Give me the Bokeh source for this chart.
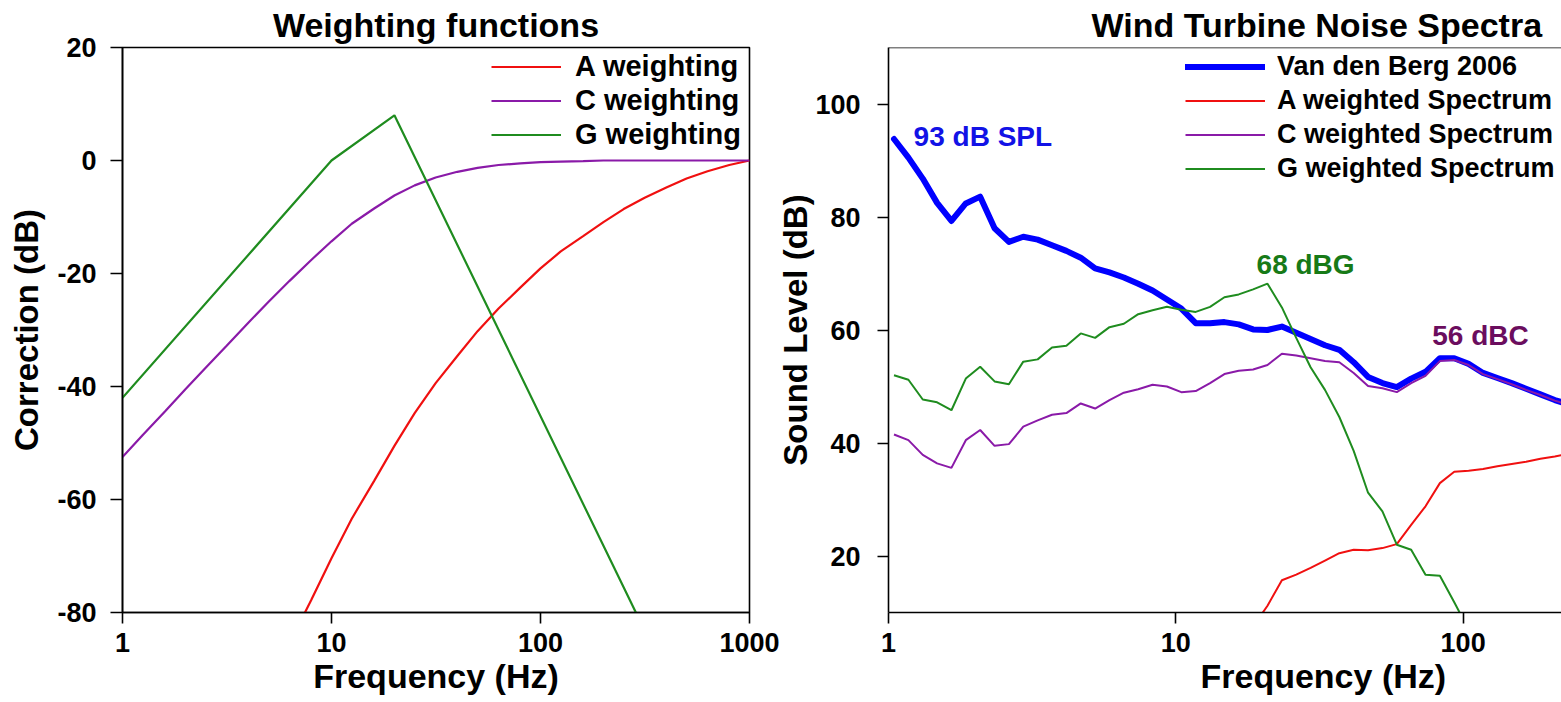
from bokeh.plotting import figure
from bokeh.models import (Range1d, FixedTicker, BasicTickFormatter, Legend,
                          LegendItem, Label, Span, Title)
from bokeh.layouts import row
from bokeh.embed import file_html
from bokeh.resources import INLINE

FONT = "Liberation Sans"

# ---------------- Left panel: weighting functions ----------------
a_freq = [6.3, 8, 10, 12.5, 16, 20, 25, 31.5, 40, 50, 63, 80, 100, 125, 160,
          200, 250, 315, 400, 500, 630, 800, 1000]
a_corr = [-85.4, -77.8, -70.4, -63.4, -56.7, -50.5, -44.7, -39.4, -34.6, -30.2,
          -26.2, -22.5, -19.1, -16.1, -13.4, -10.9, -8.6, -6.6, -4.8, -3.2,
          -1.9, -0.8, 0.0]
c_freq = [1, 1.25, 1.6, 2, 2.5, 3.15, 4, 5, 6.3, 8, 10, 12.5, 16, 20, 25, 31.5,
          40, 50, 63, 80, 100, 125, 160, 200, 250, 315, 400, 500, 630, 800, 1000]
c_corr = [-52.5, -48.6, -44.4, -40.5, -36.7, -32.8, -28.7, -25.0, -21.3, -17.6,
          -14.3, -11.2, -8.5, -6.2, -4.4, -3.0, -2.0, -1.3, -0.8, -0.5, -0.3,
          -0.2, -0.1, 0, 0, 0, 0, 0, 0, 0, 0]
g_freq = [1, 10, 20, 286]
g_corr = [-42, 0, 8, -80]
left_x_ticks = [1, 10, 100, 1000]
left_y_ticks = [-80, -60, -40, -20, 0, 20]
left_labels = ["A weighting", "C weighting", "G weighting"]

# ---------------- Right panel: wind turbine noise spectra ----------------
spec_freq = [1.045, 1.173, 1.316, 1.476, 1.656, 1.858, 2.085, 2.340, 2.625,
             2.945, 3.305, 3.708, 4.160, 4.668, 5.238, 5.877, 6.594, 7.398,
             8.301, 9.314, 10.45, 11.73, 13.16, 14.76, 16.56, 18.58, 20.85,
             23.40, 26.25, 29.45, 33.05, 37.08, 41.60, 46.68, 52.38, 58.77,
             65.94, 73.98, 83.01, 93.14, 104.5, 117.3, 131.6, 147.6, 165.6,
             185.8, 208.5, 234.0]
spl = [93.8, 90.5, 86.8, 82.5, 79.3, 82.4, 83.6, 78.0, 75.6, 76.5, 76.0, 75.0,
       74.0, 72.8, 70.9, 70.2, 69.3, 68.2, 67.0, 65.4, 63.8, 61.2, 61.2, 61.4,
       61.0, 60.1, 60.0, 60.6, 59.5, 58.4, 57.3, 56.5, 54.3, 51.7, 50.6, 49.9,
       51.4, 52.6, 55.0, 55.0, 54.0, 52.4, 51.5, 50.6, 49.6, 48.6, 47.6, 46.8]
c_spec = [41.5, 40.5, 37.9, 36.4, 35.6, 40.5, 42.3, 39.5, 39.8, 42.9, 44.0,
          45.0, 45.3, 47.0, 46.1, 47.6, 48.9, 49.5, 50.3, 50.0, 49.0, 49.2,
          50.6, 52.2, 52.8, 53.0, 53.8, 55.8, 55.5, 55.0, 54.5, 54.3, 52.4,
          50.1, 49.7, 49.0, 50.6, 51.9, 54.5, 54.7, 53.8, 52.2, 51.3, 50.4,
          49.4, 48.5, 47.5, 46.7]
g_spec = [52.0, 51.2, 47.7, 47.2, 45.8, 51.4, 53.5, 50.9, 50.4, 54.4, 54.8,
          56.9, 57.2, 59.4, 58.6, 60.5, 61.1, 62.8, 63.5, 64.1, 63.6, 63.2,
          64.1, 65.8, 66.3, 67.2, 68.2, 64.0, 58.6, 53.4, 49.4, 44.6, 38.6,
          31.2, 27.9, 22.0, 21.1, 16.7, 16.5, 11.8, 7.0, 2.0]
a_spec = [7.5, 11.2, 15.7, 16.7, 17.9, 19.2, 20.5, 21.1, 21.0, 21.4, 22.1,
          25.5, 28.8, 32.9, 34.9, 35.1, 35.4, 35.9, 36.3, 36.7, 37.2, 37.6, 38.1]
right_x_ticks = [1, 10, 100]
right_y_ticks = [20, 40, 60, 80, 100]
right_labels = ["Van den Berg 2006", "A weighted Spectrum",
                "C weighted Spectrum", "G weighted Spectrum"]

RED = "#f01010"
PURPLE = "#8a1aa8"
GREEN = "#1f8c1f"
BLUE = "#0000ff"

TICK_SIZE = "27px"
TITLE_SIZE = "34px"
AXT_SIZE = "33px"


def style_axes(p, xt, yt):
    p.xaxis.ticker = FixedTicker(ticks=xt)
    p.yaxis.ticker = FixedTicker(ticks=yt)
    p.xaxis.formatter = BasicTickFormatter()
    p.yaxis.formatter = BasicTickFormatter()
    p.xaxis.major_label_overrides = {t: str(t) for t in xt}
    p.yaxis.major_label_overrides = {t: str(t) for t in yt}
    for ax in (p.xaxis, p.yaxis):
        ax.major_label_text_font = FONT
        ax.major_label_text_font_style = "bold"
        ax.major_label_text_font_size = TICK_SIZE
        ax.major_label_text_color = "black"
        ax.axis_line_color = "black"
        ax.axis_line_width = 1.6
        ax.major_tick_line_color = "black"
        ax.major_tick_line_width = 1.6
        ax.major_tick_in = 0
        ax.minor_tick_line_color = None
        ax.axis_label_text_font = FONT
        ax.axis_label_text_font_style = "bold"
        ax.axis_label_text_font_size = AXT_SIZE
        ax.axis_label_text_color = "black"
    p.xaxis.major_tick_out = 11
    p.xaxis.major_label_standoff = 9
    p.xgrid.grid_line_color = None
    p.ygrid.grid_line_color = None
    p.title.text_font = FONT
    p.title.text_font_style = "bold"
    p.title.text_font_size = TITLE_SIZE
    p.title.text_color = "black"
    p.title.standoff = 7


def add_below_title(p, text, align, offset):
    p.add_layout(Title(text=text, align=align, offset=offset, standoff=0,
                       text_font=FONT, text_font_style="bold",
                       text_font_size=TITLE_SIZE, text_color="black"),
                 "below")


def note(p, x, y, text, color):
    p.add_layout(Label(x=x, y=y, text=text, text_font=FONT,
                       text_font_style="bold", text_font_size="28px",
                       text_color=color, text_align="left",
                       text_baseline="alphabetic"))


def make_legend(items, loc, glyph_w, standoff, size):
    return Legend(items=items, location=loc, glyph_width=glyph_w,
                  glyph_height=33, label_height=33, label_standoff=standoff,
                  spacing=1, padding=2, margin=0, border_line_color=None,
                  background_fill_alpha=0, label_text_font=FONT,
                  label_text_font_style="bold", label_text_font_size=size,
                  label_text_color="black")


# ---------------- Left figure ----------------
p1 = figure(width=780, height=702, x_axis_type="log",
            x_range=Range1d(1, 1000), y_range=Range1d(-80, 20),
            title="Weighting functions",
            output_backend="svg", toolbar_location=None,
            min_border_left=122, min_border_right=31,
            min_border_top=47, min_border_bottom=90)
style_axes(p1, left_x_ticks, left_y_ticks)
p1.title.align = "center"
p1.yaxis.major_tick_out = 12
p1.yaxis.major_label_standoff = 14
p1.yaxis.axis_label = "Correction (dB)"
p1.yaxis.axis_label_standoff = 9
p1.outline_line_color = "black"
p1.outline_line_width = 1.6
p1.outline_line_alpha = 1.0
add_below_title(p1, "Frequency (Hz)", "center", 0)

ra = p1.line(a_freq, a_corr, line_color=RED, line_width=2.2)
rc = p1.line(c_freq, c_corr, line_color=PURPLE, line_width=2.2)
rg = p1.line(g_freq, g_corr, line_color=GREEN, line_width=2.2)

p1.add_layout(make_legend(
    [LegendItem(label=left_labels[0], renderers=[ra]),
     LegendItem(label=left_labels[1], renderers=[rc]),
     LegendItem(label=left_labels[2], renderers=[rg])],
    (369, 461), 70, 14, "29px"))

# ---------------- Right figure ----------------
# transparent border and a small negative margin so that its y-axis title
# can sit close to the left panel, as in the original figure
p2 = figure(width=791, height=702, x_axis_type="log",
            x_range=Range1d(1, 220), y_range=Range1d(10, 110),
            title="Wind Turbine Noise Spectra",
            output_backend="svg", toolbar_location=None,
            min_border_left=118, min_border_right=0,
            min_border_top=47, min_border_bottom=90,
            margin=(0, 0, 0, -10))
p2.border_fill_alpha = 0
style_axes(p2, right_x_ticks, right_y_ticks)
p2.title.align = "left"
p2.title.offset = 203
p2.yaxis.major_tick_out = 11
p2.yaxis.major_label_standoff = 17
p2.yaxis.axis_label = "Sound Level (dB)"
p2.yaxis.axis_label_standoff = -2
p2.outline_line_color = None
p2.add_layout(Span(location=110, dimension="width", line_color="black",
                   line_width=1.6))
add_below_title(p2, "Frequency (Hz)", "left", 312)

rb = p2.line(spec_freq, spl, line_color=BLUE, line_width=6,
             line_join="round", line_cap="round")
rra = p2.line(spec_freq[25:], a_spec, line_color=RED, line_width=2)
rrc = p2.line(spec_freq, c_spec, line_color=PURPLE, line_width=2)
rrg = p2.line(spec_freq[:len(g_spec)], g_spec, line_color=GREEN, line_width=2)

p2.add_layout(make_legend(
    [LegendItem(label=right_labels[0], renderers=[rb]),
     LegendItem(label=right_labels[1], renderers=[rra]),
     LegendItem(label=right_labels[2], renderers=[rrc]),
     LegendItem(label=right_labels[3], renderers=[rrg])],
    (297, 427), 80, 12, "27px"))

note(p2, 1.223, 94.2, "93 dB SPL", "#1212e6")
note(p2, 19.1, 71.65, "68 dBG", "#177a17")
note(p2, 78.1, 58.95, "56 dBC", "#6b0d5e")

layout = row(p1, p2, spacing=0)
open("out.html", "w").write(file_html(layout, INLINE))
